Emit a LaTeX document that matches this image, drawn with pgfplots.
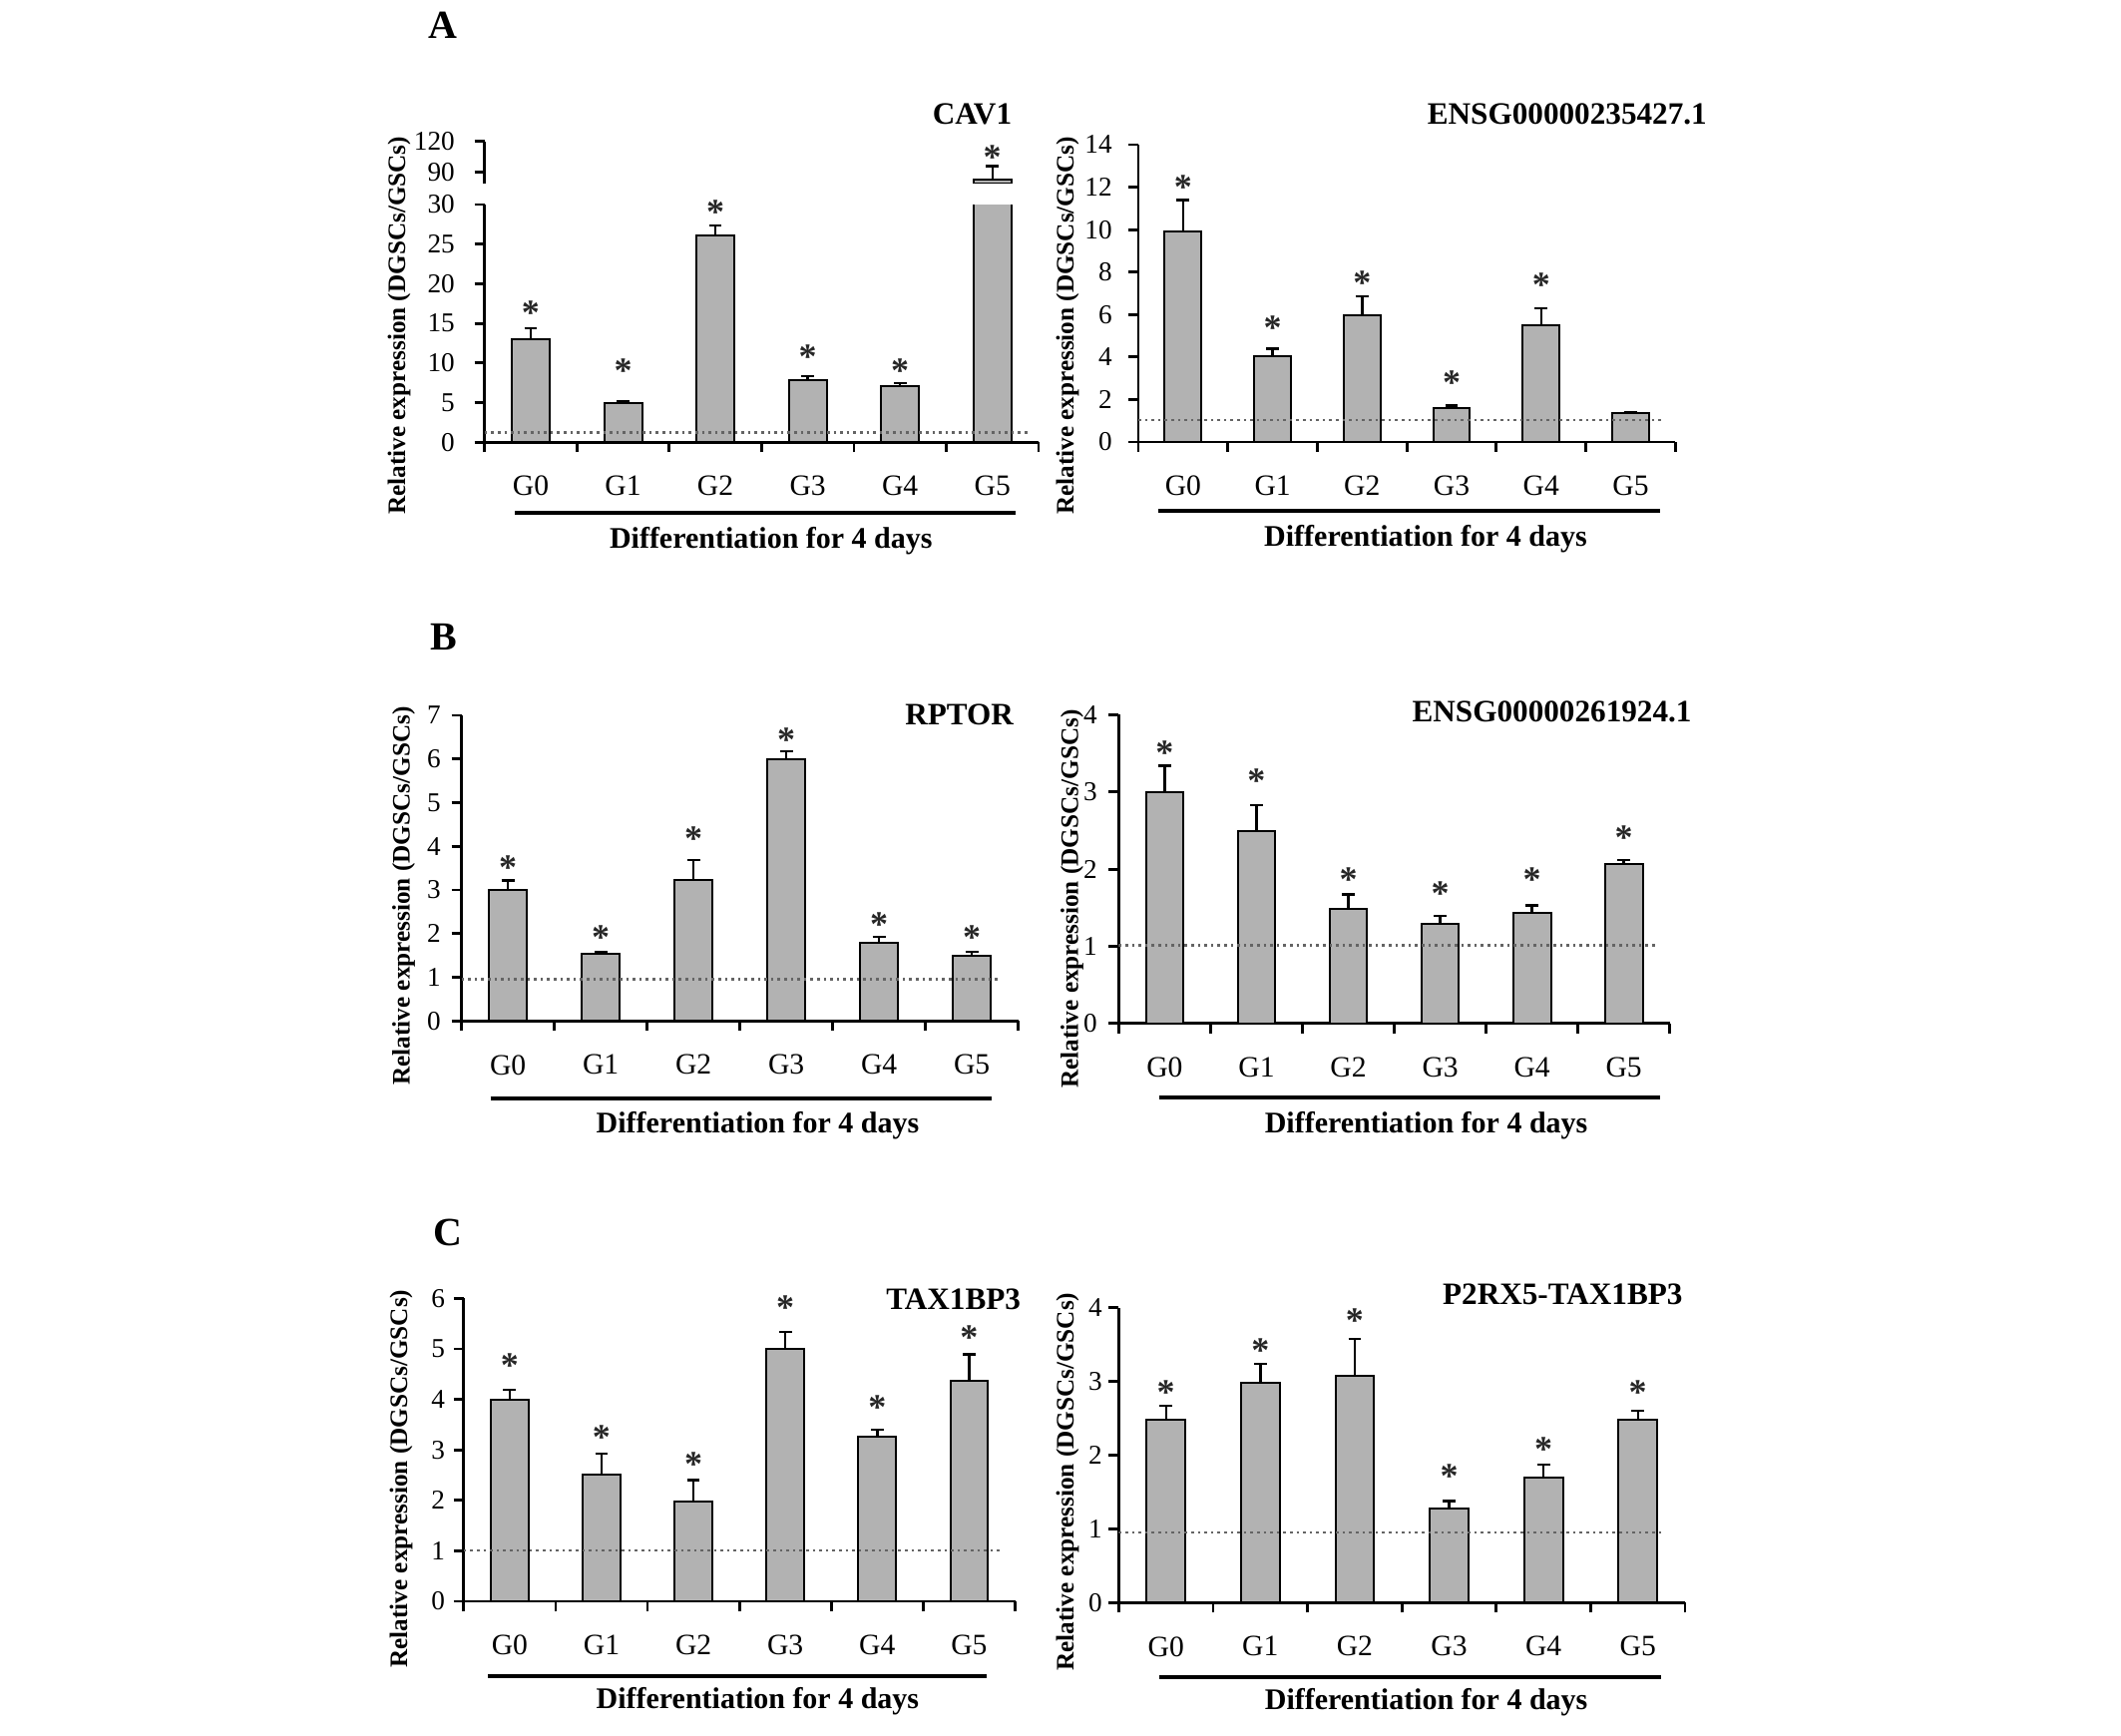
\documentclass[border=0pt]{standalone}
\usepackage{fontspec}
\setmainfont{Liberation Serif}
\usepackage{pgfplots}
\pgfplotsset{compat=1.18}
\definecolor{barfill}{RGB}{178,178,178}
\definecolor{dotc}{RGB}{100,100,100}
\newcommand{\fs}[1]{\fontsize{#1}{#1}\selectfont}
\tikzset{
  ptitle/.style={anchor=east, inner sep=0pt, font=\fs{7.8}\bfseries},
  pletter/.style={anchor=west, inner sep=0pt, font=\fs{10}\bfseries},
}
\pgfplotsset{
  base/.style={
    scale only axis, anchor=south west,
    xmin=-0.5, xmax=5.5, ymin=0,
    axis y line*=left,
    axis line style={line width=0.7pt, black},
    tick align=outside,
    major tick length=2.5pt,
    tick style={line width=0.7pt, black},
    clip mode=individual,
    /pgf/number format/assume math mode=true,
    yticklabel style={font=\fs{6.8}, inner sep=0pt, anchor=east},
    ylabel={Relative expression (DGSCs/GSCs)},
    ylabel style={font=\fs{6.3}\bfseries, anchor=center},
    xlabel style={font=\fs{7.5}\bfseries, anchor=center},
  },
  xcat/.style={
    axis x line*=bottom,
    xtick={-0.5,0.5,1.5,2.5,3.5,4.5,5.5},
    xticklabels={,,,,,,},
    extra x ticks={0,1,2,3,4,5},
    extra x tick labels={G0,G1,G2,G3,G4,G5},
    extra x tick style={major tick length=0pt, tick style={draw=none}},
    xticklabel style={font=\fs{7.4}, inner sep=0pt, anchor=north},
    xticklabel shift=8.3pt,
    xlabel={Differentiation for 4 days},
  },
  bars/.style={ybar, bar width=0.41, fill=barfill, draw=black, line width=0.5pt,
    error bars/.cd, y dir=plus, y explicit,
    error bar style={line width=0.6pt, black},
    error mark options={rotate=90, line width=0.6pt, mark size=1.6pt, black}},
  stars/.style={draw=none, mark=none, nodes near coords={*},
    every node near coord/.style={anchor=center, font=\fs{9}\bfseries, inner sep=0pt, yshift=-1.2pt, text=black!85}},
  refline/.style={densely dotted, line width=0.65pt, dotc},
}
\begin{document}
\begin{tikzpicture}
\path[use as bounding box] (0,0) rectangle (531.5pt,434.75pt);

% ---------- A left (CAV1), lower part ----------
\begin{axis}[base, xcat, at={(121.425pt,323.925pt)}, width=138.825pt, height=59.575pt,
  ymax=30, ytick={0,5,10,15,20,25,30}, yticklabel shift=4.8pt,
  ylabel style={at={(axis description cs:-0.154,0.491)}},
  xlabel style={at={(axis description cs:0.517,-0.413)}}]
\addplot[bars] coordinates {(0,13.0) +- (0,1.4) (1,5.0) +- (0,0.12) (2,26.1) +- (0,1.25) (3,7.86) +- (0,0.5) (4,7.15) +- (0,0.3) (5,82.5) +- (0,0)};
\addplot[refline] coordinates {(-0.5,1.26) (5.41,1.26)};
\addplot[stars] coordinates {(0,16.97) (1,9.6) (2,29.6) (3,11.37) (4,9.6)};
\node[ptitle] at (axis description cs:0.953,1.379) {CAV1};
\node[pletter] at (axis description cs:-0.102,1.7554) {A};
\draw[line width=0.9pt] (axis description cs:0.0546,-0.296) -- (axis description cs:0.959,-0.296);
\end{axis}
% ---------- A left (CAV1), upper part ----------
\begin{axis}[base, at={(121.425pt,388.75pt)}, width=138.825pt, height=10.575pt,
  ymin=78.5, ymax=120, ytick={90,120}, yticklabel shift=4.8pt,
  axis x line=none, xtick=\empty, ylabel={}]
\addplot[bars] coordinates {(5,82.5) +- (0,13)};
\addplot[stars] coordinates {(5,109.2)};
\end{axis}

% ---------- A right ----------
\begin{axis}[base, xcat, at={(285.25pt,324pt)}, width=134.575pt, height=74.5pt,
  ymax=14, ytick={0,2,4,6,8,10,12,14}, yticklabel shift=3.9pt,
  ylabel style={at={(axis description cs:-0.132,0.391)}},
  xlabel style={at={(axis description cs:0.535,-0.326)}}]
\addplot[bars] coordinates {(0,9.9) +- (0,1.5) (1,4.03) +- (0,0.37) (2,5.97) +- (0,0.9) (3,1.6) +- (0,0.12) (4,5.5) +- (0,0.8) (5,1.37) +- (0,0.03)};
\addplot[refline] coordinates {(-0.5,1.03) (5.36,1.03)};
\addplot[stars] coordinates {(0,12.2) (1,5.6) (2,7.7) (3,3.0) (4,7.6)};
\node[ptitle] at (axis description cs:1.06,1.103) {ENSG00000235427.1};
\draw[line width=0.9pt] (axis description cs:0.038,-0.231) -- (axis description cs:0.971,-0.231);
\end{axis}

% ---------- B left (RPTOR) ----------
\begin{axis}[base, xcat, at={(115.65pt,178.925pt)}, width=139.5pt, height=76.575pt,
  ymax=7, ytick={0,1,2,3,4,5,6,7}, yticklabel shift=2.5pt,
  ylabel style={at={(axis description cs:-0.104,0.409)}},
  xlabel style={at={(axis description cs:0.532,-0.343)}}]
\addplot[bars] coordinates {(0,3.0) +- (0,0.22) (1,1.54) +- (0,0.05) (2,3.22) +- (0,0.47) (3,6.0) +- (0,0.18) (4,1.8) +- (0,0.13) (5,1.5) +- (0,0.08)};
\addplot[refline] coordinates {(-0.5,0.96) (5.29,0.96)};
\addplot[stars] coordinates {(0,3.63) (1,2.03) (2,4.28) (3,6.54) (4,2.33) (5,2.03)};
\node[ptitle] at (axis description cs:0.993,1.0007) {RPTOR};
\node[pletter] at (axis description cs:-0.0566,1.256) {B};
\draw[line width=0.9pt] (axis description cs:0.052,-0.2537) -- (axis description cs:0.952,-0.2537);
\end{axis}

% ---------- B right ----------
\begin{axis}[base, xcat, at={(280.35pt,178.3pt)}, width=138.075pt, height=77.35pt,
  ymax=4, ytick={0,1,2,3,4}, yticklabel shift=2.75pt,
  ylabel style={at={(axis description cs:-0.085,0.4034)}},
  xlabel style={at={(axis description cs:0.558,-0.331)}}]
\addplot[bars] coordinates {(0,3.0) +- (0,0.34) (1,2.49) +- (0,0.34) (2,1.49) +- (0,0.18) (3,1.29) +- (0,0.1) (4,1.43) +- (0,0.1) (5,2.07) +- (0,0.05)};
\addplot[refline] coordinates {(-0.5,1.01) (5.37,1.01)};
\addplot[stars] coordinates {(0,3.57) (1,3.2) (2,1.92) (3,1.74) (4,1.93) (5,2.47)};
\node[ptitle] at (axis description cs:1.041,1.0087) {ENSG00000261924.1};
\draw[line width=0.9pt] (axis description cs:0.0728,-0.2398) -- (axis description cs:0.982,-0.2398);
\end{axis}

% ---------- C left (TAX1BP3) ----------
\begin{axis}[base, xcat, at={(116.2pt,33.5pt)}, width=138.175pt, height=75.9pt,
  ymax=6, ytick={0,1,2,3,4,5,6}, yticklabel shift=2pt,
  ylabel style={at={(axis description cs:-0.1136,0.405)}},
  xlabel style={at={(axis description cs:0.533,-0.329)}}]
\addplot[bars] coordinates {(0,4.0) +- (0,0.19) (1,2.51) +- (0,0.41) (2,1.98) +- (0,0.42) (3,5.0) +- (0,0.34) (4,3.26) +- (0,0.14) (5,4.37) +- (0,0.52)};
\addplot[refline] coordinates {(-0.5,1.01) (5.35,1.01)};
\addplot[stars] coordinates {(0,4.76) (1,3.34) (2,2.82) (3,5.91) (4,3.93) (5,5.32)};
\node[ptitle] at (axis description cs:1.0115,0.9964) {TAX1BP3};
\node[pletter] at (axis description cs:-0.0565,1.2187) {C};
\draw[line width=0.9pt] (axis description cs:0.0445,-0.247) -- (axis description cs:0.949,-0.247);
\end{axis}

% ---------- C right ----------
\begin{axis}[base, xcat, at={(280.35pt,33.175pt)}, width=141.9pt, height=73.9pt,
  ymax=4, ytick={0,1,2,3,4}, yticklabel shift=1.5pt,
  ylabel style={at={(axis description cs:-0.0906,0.410)}},
  xlabel style={at={(axis description cs:0.543,-0.3393)}}]
\addplot[bars] coordinates {(0,2.48) +- (0,0.19) (1,2.98) +- (0,0.26) (2,3.08) +- (0,0.5) (3,1.28) +- (0,0.1) (4,1.69) +- (0,0.18) (5,2.48) +- (0,0.12)};
\addplot[refline] coordinates {(-0.5,0.95) (5.25,0.95)};
\addplot[stars] coordinates {(0,2.91) (1,3.48) (2,3.89) (3,1.78) (4,2.14) (5,2.91)};
\node[ptitle] at (axis description cs:0.997,1.0464) {P2RX5-TAX1BP3};
\draw[line width=0.9pt] (axis description cs:0.0708,-0.2527) -- (axis description cs:0.958,-0.2527);
\end{axis}
\end{tikzpicture}
\end{document}
